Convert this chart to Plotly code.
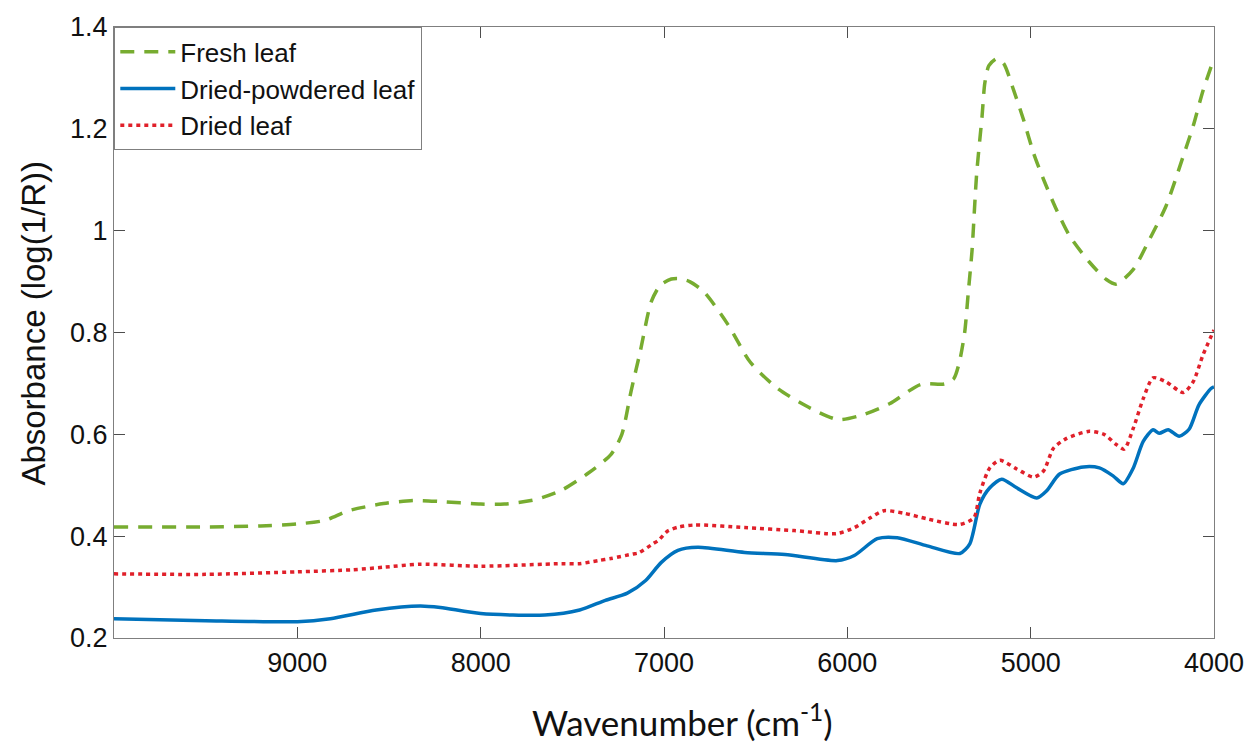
import plotly.graph_objects as go

# Fresh leaf
fresh_wn = [10000, 9500, 9200, 9000, 8850, 8720, 8530, 8370, 8220, 8000, 7870, 7700, 7560, 7420,
            7290, 7230, 7180, 7130, 7070, 7020, 6960, 6920, 6860, 6780, 6650, 6530, 6380, 6200,
            6050, 5910, 5770, 5600, 5470, 5420, 5390, 5360, 5340, 5320, 5295, 5265, 5250, 5228,
            5185, 5147, 5092, 5038, 4984, 4929, 4859, 4788, 4679, 4587, 4533, 4440, 4353, 4261,
            4168, 4114, 4060, 4000]
fresh_abs = [0.418, 0.418, 0.420, 0.424, 0.431, 0.450, 0.464, 0.470, 0.468, 0.463, 0.463, 0.472,
             0.490, 0.522, 0.560, 0.600, 0.684, 0.762, 0.860, 0.893, 0.905, 0.906, 0.900, 0.879,
             0.815, 0.742, 0.690, 0.651, 0.629, 0.639, 0.660, 0.698, 0.699, 0.709, 0.740, 0.800,
             0.880, 0.960, 1.110, 1.225, 1.290, 1.324, 1.338, 1.328, 1.275, 1.217, 1.152, 1.100,
             1.041, 0.990, 0.938, 0.904, 0.895, 0.924, 0.982, 1.049, 1.146, 1.205, 1.275, 1.338]

# Dried-powdered leaf
powder_wn = [10000, 9500, 9000, 8820, 8570, 8330, 8220, 8000, 7650, 7460, 7320, 7200, 7100, 7016,
             6924, 6815, 6560, 6340, 6054, 5962, 5837, 5728, 5565, 5386, 5332, 5277, 5223, 5158,
             5076, 4967, 4913, 4842, 4712, 4625, 4549, 4495, 4440, 4386, 4332, 4299, 4250, 4190,
             4136, 4082, 4016, 4000]
powder_abs = [0.238, 0.234, 0.232, 0.238, 0.255, 0.263, 0.260, 0.248, 0.245, 0.255, 0.274, 0.288,
              0.313, 0.348, 0.372, 0.378, 0.368, 0.364, 0.352, 0.362, 0.395, 0.397, 0.381, 0.366,
              0.385, 0.463, 0.495, 0.512, 0.495, 0.475, 0.489, 0.522, 0.536, 0.534, 0.518, 0.503,
              0.534, 0.586, 0.609, 0.602, 0.609, 0.596, 0.610, 0.658, 0.690, 0.693]

# Dried leaf
dried_wn = [10000, 9500, 9000, 8700, 8530, 8330, 8000, 7560, 7460, 7360, 7290, 7170, 7140, 7060,
            7030, 6980, 6920, 6830, 6560, 6290, 6060, 5960, 5875, 5800, 5690, 5565, 5390, 5310,
            5277, 5223, 5168, 5076, 4984, 4930, 4875, 4804, 4680, 4600, 4533, 4490, 4440, 4386,
            4332, 4261, 4168, 4114, 4060, 4000]
dried_abs = [0.326, 0.325, 0.330, 0.334, 0.339, 0.345, 0.341, 0.346, 0.346, 0.352, 0.356, 0.365,
             0.367, 0.385, 0.392, 0.410, 0.418, 0.422, 0.417, 0.411, 0.405, 0.417, 0.436, 0.450,
             0.445, 0.434, 0.423, 0.436, 0.485, 0.534, 0.549, 0.532, 0.516, 0.528, 0.573, 0.592,
             0.606, 0.600, 0.580, 0.571, 0.612, 0.670, 0.711, 0.703, 0.682, 0.703, 0.756, 0.805]

x_ticks = [9000, 8000, 7000, 6000, 5000, 4000]
y_ticks = [0.2, 0.4, 0.6, 0.8, 1.0, 1.2, 1.4]
y_labels = ["0.2", "0.4", "0.6", "0.8", "1", "1.2", "1.4"]
x_title = "Wavenumber (cm<sup>-1</sup>)"
y_title = "Absorbance (log(1/R))"

fig = go.Figure()
fig.add_trace(go.Scatter(x=fresh_wn, y=fresh_abs, mode="lines", name="Fresh leaf",
                         line=dict(color="#77AC30", width=3.5, dash="14px,10px",
                                   shape="spline", smoothing=0.7)))
fig.add_trace(go.Scatter(x=powder_wn, y=powder_abs, mode="lines", name="Dried-powdered leaf",
                         line=dict(color="#0072BD", width=3.5, shape="spline", smoothing=0.7)))
fig.add_trace(go.Scatter(x=dried_wn, y=dried_abs, mode="lines", name="Dried leaf",
                         line=dict(color="#E0202A", width=3.5, dash="4px,4px",
                                   shape="spline", smoothing=0.7)))

axis_common = dict(showgrid=False, zeroline=False, showline=True, linecolor="#7f7f7f",
                   linewidth=1.3, mirror="ticks", ticks="inside", ticklen=11,
                   tickcolor="#4d4d4d", tickwidth=1.2,
                   tickfont=dict(family="Liberation Sans, Arial", size=27, color="#111111"))

fig.update_layout(
    width=1256, height=742,
    margin=dict(l=114, r=38, t=23, b=104),
    paper_bgcolor="white", plot_bgcolor="white",
    xaxis=dict(range=[10000, 4000], tickvals=x_ticks, ticktext=[str(t) for t in x_ticks],
               **axis_common),
    yaxis=dict(range=[0.2, 1.4], tickvals=y_ticks, ticktext=y_labels, **axis_common),
    legend=dict(x=0.0, y=1.0, xanchor="left", yanchor="top",
                bgcolor="white", bordercolor="#7f7f7f", borderwidth=1.3,
                font=dict(family="Liberation Sans, Arial", size=26, color="#111111"),
                itemwidth=55, tracegroupgap=0),
    showlegend=True,
    annotations=[
        dict(text=x_title, xref="paper", yref="paper", x=0.517, y=-0.134,
             xanchor="center", yanchor="middle", showarrow=False,
             font=dict(family="Lato", size=35, color="#111111")),
        dict(text=y_title, xref="paper", yref="paper", x=-0.0734, y=0.515,
             xanchor="center", yanchor="middle", textangle=-90, showarrow=False,
             font=dict(family="Liberation Sans, Arial", size=33, color="#111111")),
    ],
)

fig.write_html("out.html")
